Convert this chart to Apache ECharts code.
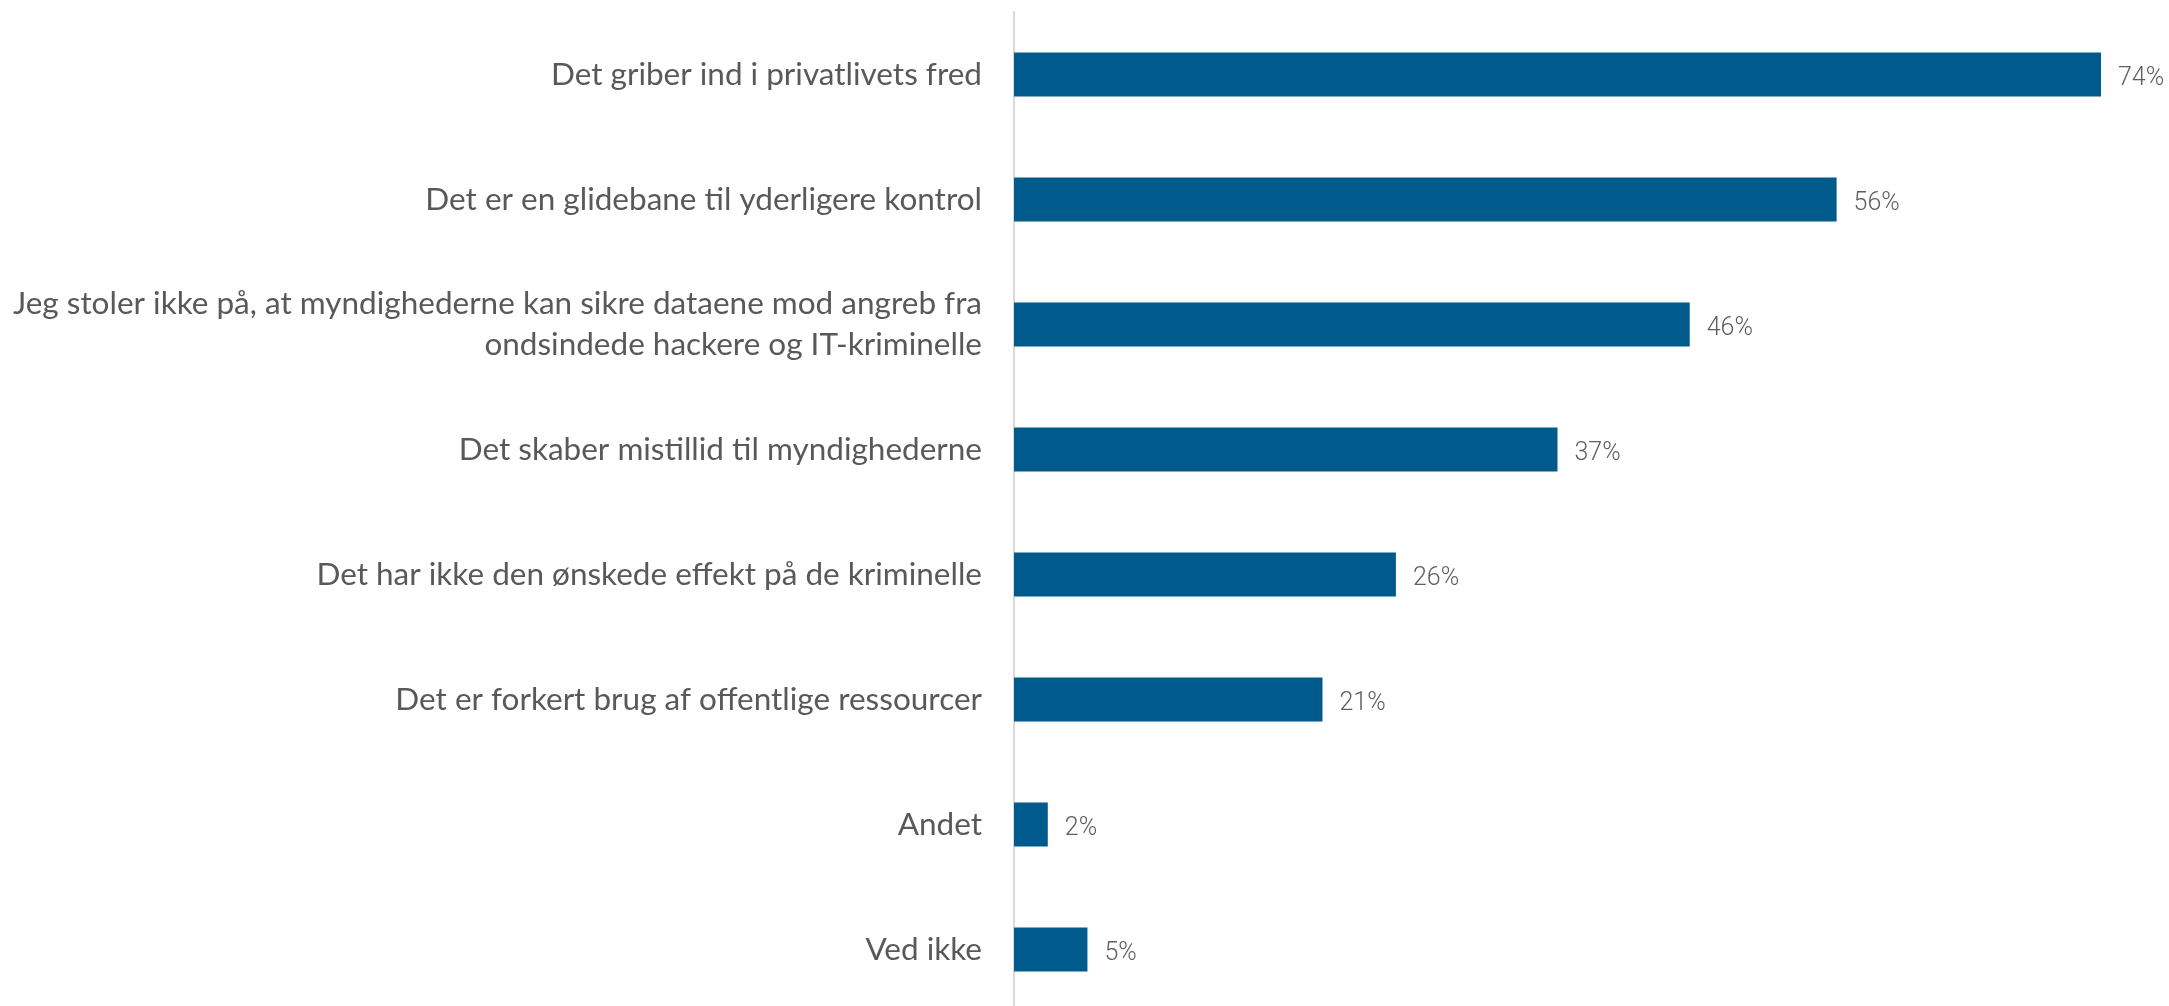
<!DOCTYPE html>
<html>
<head>
<meta charset="utf-8">
<script src="https://cdn.jsdelivr.net/npm/echarts@6/dist/echarts.min.js"></script>
<style>
html,body{margin:0;padding:0;background:#fff;overflow:hidden;}
#chart{width:2169px;height:1012px;}
</style>
</head>
<body>
<div id="chart"></div>
<script>
const categories = [
  "Det griber ind i privatlivets fred",
  "Det er en glidebane til yderligere kontrol",
  "Jeg stoler ikke på, at myndighederne kan sikre dataene mod angreb fra\nondsindede hackere og IT-kriminelle",
  "Det skaber mistillid til myndighederne",
  "Det har ikke den ønskede effekt på de kriminelle",
  "Det er forkert brug af offentlige ressourcer",
  "Andet",
  "Ved ikke"
];
const values = [74, 56, 46, 37, 26, 21, 2.3, 5];

const chart = echarts.init(document.getElementById('chart'));
chart.setOption({
  animation: false,
  backgroundColor: '#ffffff',
  grid: { left: 1014, right: 68, top: 12, bottom: 0, containLabel: false },
  xAxis: {
    type: 'value', min: 0, max: 74, show: false
  },
  yAxis: {
    type: 'category', data: categories, inverse: true,
    axisLine: { show: true, lineStyle: { color: '#d9d9d9', width: 2 } },
    axisTick: { show: false },
    axisLabel: {
      margin: 32, color: '#595959', fontSize: 31.5, lineHeight: 41,
      fontFamily: 'Lato'
    }
  },
  series: [{
    type: 'bar', data: values, barWidth: 44,
    itemStyle: { color: '#005a8b' },
    label: {
      show: true, position: 'right', distance: 17, offset: [0, 4],
      formatter: p => Math.round(p.value) + '%',
      color: '#5f5f5f', fontSize: 25, fontWeight: 300, fontFamily: 'Roboto'
    }
  }]
});
</script>
</body>
</html>
